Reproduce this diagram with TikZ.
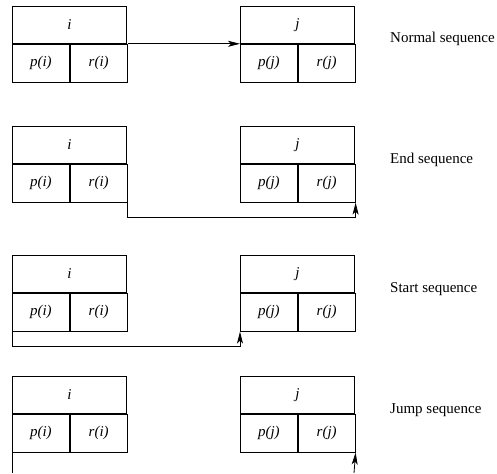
\documentclass[tikz,border=0pt]{standalone}
\usepackage{fontspec}
\setmainfont{Liberation Serif}
\usepackage{tikz}
\usetikzlibrary{
    arrows.meta,
    positioning
}
\tikzset{
  head/.style  = {draw, line width=0.8pt, minimum width=114pt,
                  minimum height=37pt, inner sep=0pt, anchor=north west},
  cell/.style  = {draw, line width=0.8pt, minimum width=57pt,
                  minimum height=38pt, inner sep=0pt, anchor=north west},
  arr/.style   = {-{Stealth[length=12pt, width=6pt, inset=3pt]}, line width=0.8pt},
  lbl/.style   = {anchor=base west, inner sep=0pt}
}

\begin{document}
\begin{tikzpicture}[x=1pt, y=-1pt, font=\fontsize{15}{17}\selectfont]
    \useasboundingbox (0,0) rectangle (497,473);

    % normal sequence
    \node[head](i1) at (12,6)  {\textit{i}};
    \node[cell](pi1) at (i1.south west) {\textit{p(i)}};
    \node[cell](ri1) at (pi1.north east) {\textit{r(i)}};
    \node[head](j1) at (240,6) {\textit{j}};
    \node[cell](pj1) at (j1.south west) {\textit{p(j)}};
    \node[cell](rj1) at (pj1.north east) {\textit{r(j)}};
    \node[lbl](l1) at (390,43) {Normal sequence};
    \draw[arr](ri1.north east) -- (pj1.north west);

    % end sequence
    \node[head](i2) at (12,126)  {\textit{i}};
    \node[cell](pi2) at (i2.south west) {\textit{p(i)}};
    \node[cell](ri2) at (pi2.north east) {\textit{r(i)}};
    \node[head](j2) at (240,126) {\textit{j}};
    \node[cell](pj2) at (j2.south west) {\textit{p(j)}};
    \node[cell](rj2) at (pj2.north east) {\textit{r(j)}};
    \node[lbl](l2) at (390,163) {End sequence};
    \draw[arr](ri2.south east) -- ++(0,15) -| (rj2.south east);

    % start sequence
    \node[head](i3) at (12,255)  {\textit{i}};
    \node[cell](pi3) at (i3.south west) {\textit{p(i)}};
    \node[cell](ri3) at (pi3.north east) {\textit{r(i)}};
    \node[head](j3) at (240,255) {\textit{j}};
    \node[cell](pj3) at (j3.south west) {\textit{p(j)}};
    \node[cell](rj3) at (pj3.north east) {\textit{r(j)}};
    \node[lbl](l3) at (390,292) {Start sequence};
    \draw[arr](pi3.south west) -- ++(0,15) -| (pj3.south west);

    % jump sequence
    \node[head](i4) at (12,376)  {\textit{i}};
    \node[cell](pi4) at (i4.south west) {\textit{p(i)}};
    \node[cell](ri4) at (pi4.north east) {\textit{r(i)}};
    \node[head](j4) at (240,376) {\textit{j}};
    \node[cell](pj4) at (j4.south west) {\textit{p(j)}};
    \node[cell](rj4) at (pj4.north east) {\textit{r(j)}};
    \node[lbl](l4) at (390,413) {Jump sequence};
    \coordinate (out4) at (12,473);
    \coordinate (in4)  at (354,473);
    \draw[line width=0.8pt](pi4.south west) -- (out4);
    \draw[arr](in4) -- (rj4.south east);
\end{tikzpicture}
\end{document}
